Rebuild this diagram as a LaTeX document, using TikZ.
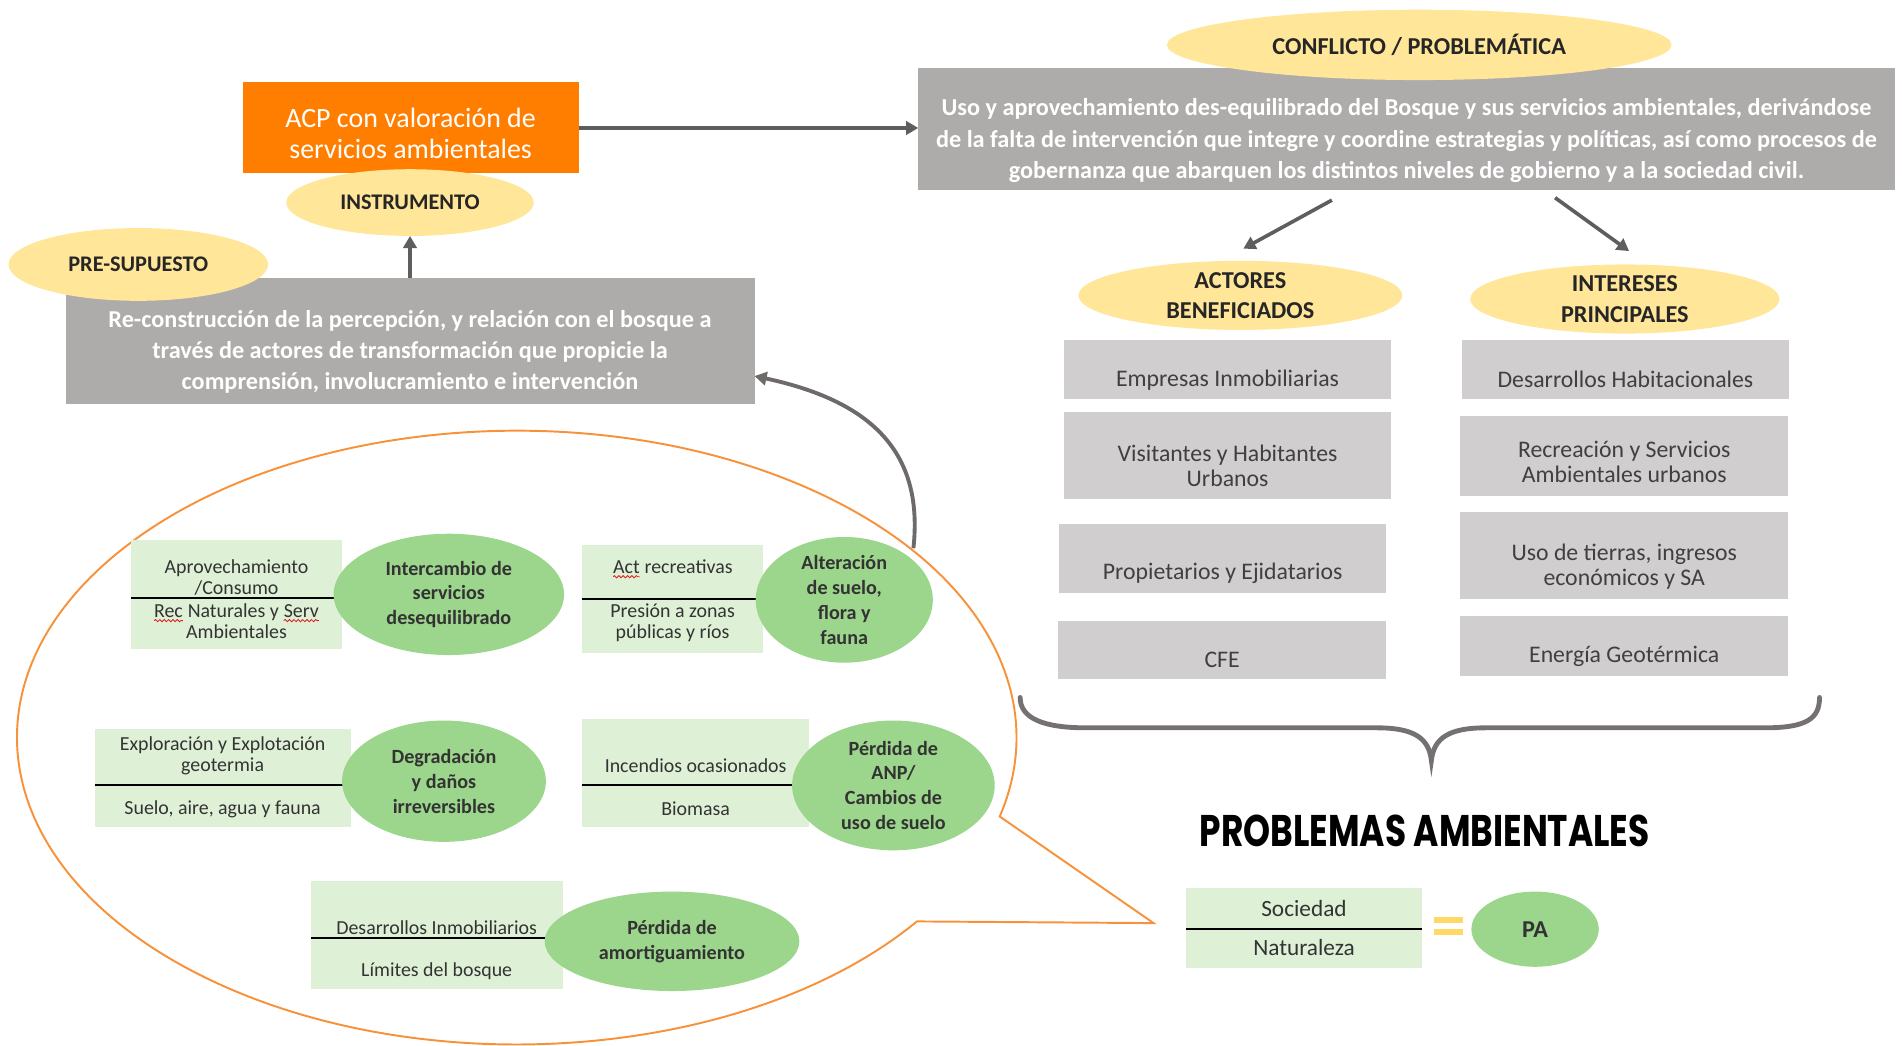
\documentclass[tikz,border=0pt]{standalone}
\usepackage{fontspec}
\setmainfont{Carlito}
\newfontfamily\popfont{Poppins}
\usepackage{graphicx}
\usetikzlibrary{shapes.geometric,arrows.meta,calc,decorations.pathmorphing}
\definecolor{acporange}{HTML}{FF7E00}
\definecolor{boxgray}{HTML}{AEABAB}
\definecolor{lightgraybox}{HTML}{D0CECE}
\definecolor{ellyellow}{HTML}{FFE699}
\definecolor{ellgreen}{HTML}{9CD58C}
\definecolor{lightgreen}{HTML}{DEF1D7}
\definecolor{arrowgray}{HTML}{5E5E5E}
\definecolor{curvegray}{HTML}{6E6A6A}
\definecolor{bracegray}{HTML}{767171}
\definecolor{bubbleorange}{HTML}{F7923A}
\definecolor{eqyellow}{HTML}{FFD966}
\definecolor{txtdark}{HTML}{262626}
\definecolor{txtgray}{HTML}{404040}
\definecolor{txtgreen}{HTML}{333333}
\definecolor{wavered}{HTML}{E02020}
\newcommand\redwave[1]{\tikz[baseline=(rw.base)]{\node[inner sep=0pt,outer sep=0pt,text=txtgreen](rw){#1};\draw[wavered,line width=0.35pt,decorate,decoration={snake,amplitude=0.45pt,segment length=1.8pt}] ([yshift=-1.4pt]rw.base west) -- ([yshift=-1.4pt]rw.base east);}}
\begin{document}
\begin{tikzpicture}[x=0.5pt,y=-0.5pt,
  every node/.style={inner sep=0pt, outer sep=0pt},
  graybox/.style={rectangle, fill=boxgray},
  graytext/.style={text=white, font=\bfseries\fontsize{10}{13}\selectfont, align=center},
  yell/.style={ellipse, fill=ellyellow, text=txtdark, font=\bfseries\fontsize{9.2}{12.5}\selectfont, align=center},
  lgray/.style={rectangle, fill=lightgraybox},
  lgraytext/.style={text=txtgray, font=\fontsize{9.8}{10.5}\selectfont, align=center},
  lgreen/.style={rectangle, fill=lightgreen},
  lgreentext/.style={text=txtgreen, font=\fontsize{8.2}{8.8}\selectfont, align=center},
  gell/.style={ellipse, fill=ellgreen, text=txtgreen, font=\bfseries\fontsize{8.3}{10.25}\selectfont, align=center},
  arr/.style={draw=arrowgray, line width=1.5pt, -{Triangle[length=5pt,width=5.5pt]}},
  divline/.style={draw=black, line width=0.8pt},
]
\useasboundingbox (0,0) rectangle (1568,862);

% ---------- speech bubble ----------
\coordinate (bubc) at (426,608);
\coordinate (tailtip) at (951,761);
\draw[draw=bubbleorange, line width=0.8pt] (755.9,759.6) arc[start angle=36.8, end angle=374.9, x radius=412, y radius=253] -- (tailtip) -- cycle;

% ---------- top left ----------
\node[rectangle, fill=acporange, minimum width=138.5pt, minimum height=37.5pt] (acp) at (338.5,105.5) {};
\node[text=white, font=\fontsize{11.5}{13}\selectfont, align=center] (acpt) at (338.5,110) {ACP con valoración de\\servicios ambientales};
\node[yell, minimum width=102pt, minimum height=27.5pt] (instr) at (338,167) {INSTRUMENTO};
\node[graybox, minimum width=284pt, minimum height=52pt] (recon) at (338,281) {};
\node[graytext, font=\bfseries\fontsize{10}{12.75}\selectfont] (recont) at (338,290) {Re-construcción de la percepción, y relación con el bosque a\\través de actores de transformación que propicie la\\comprensión, involucramiento e intervención};
\node[yell, minimum width=107pt, minimum height=30pt] (presup) at (114,218) {PRE-SUPUESTO};

% ---------- conflict ----------
\node[graybox, minimum width=402.5pt, minimum height=50.5pt] (conf) at (1159.5,106.5) {};
\node[graytext] (conft) at (1159.5,116) {Uso y aprovechamiento des-equilibrado del Bosque y sus servicios ambientales, derivándose\\de la falta de intervención que integre y coordine estrategias y políticas, así como procesos de\\gobernanza que abarquen los distintos niveles de gobierno y a la sociedad civil.};
\node[yell, font=\bfseries\fontsize{10}{12.5}\selectfont, minimum width=208pt, minimum height=29pt] (confl) at (1170,37) {CONFLICTO / PROBLEMÁTICA};

\draw[arr] (acp.east) -- (acp.east -| conf.west);
\draw[arr] (recon.north) -- (instr.south);

% ---------- actors / interests ----------
\node[yell, font=\bfseries\fontsize{10}{12.5}\selectfont, minimum width=133.5pt, minimum height=28.5pt] (actores) at (1022.5,243.5) {ACTORES\\BENEFICIADOS};
\node[yell, font=\bfseries\fontsize{10}{12.5}\selectfont, minimum width=127.5pt, minimum height=28.5pt] (intereses) at (1339.5,246.5) {INTERESES\\PRINCIPALES};

\coordinate (d1s) at (1098,165);
\coordinate (d1e) at (1025,205);
\coordinate (d2s) at (1282,163);
\coordinate (d2e) at (1343,207);
\draw[arr] (d1s) -- (d1e);
\draw[arr] (d2s) -- (d2e);

\node[lgray, minimum width=135pt, minimum height=24.5pt] (a1) at (1012,304.5) {};
\node[lgraytext] (a1t) at (1012,313) {Empresas Inmobiliarias};
\node[lgray, minimum width=135pt, minimum height=35.5pt] (a2) at (1012,375.5) {};
\node[lgraytext] (a2t) at (1012,384) {Visitantes y Habitantes\\Urbanos};
\node[lgray, minimum width=135pt, minimum height=28.5pt] (a3) at (1008,460.5) {};
\node[lgraytext] (a3t) at (1008,473) {Propietarios y Ejidatarios};
\node[lgray, minimum width=135.5pt, minimum height=24pt] (a4) at (1007.5,536) {};
\node[lgraytext] (a4t) at (1007.5,544) {CFE};

\node[lgray, minimum width=135pt, minimum height=24.5pt] (r1) at (1340,304.5) {};
\node[lgraytext] (r1t) at (1340,313) {Desarrollos Habitacionales};
\node[lgray, minimum width=135pt, minimum height=33pt] (r2) at (1339,376) {};
\node[lgraytext] (r2t) at (1339,381) {Recreación y Servicios\\Ambientales urbanos};
\node[lgray, minimum width=135pt, minimum height=36pt] (r3) at (1339,458) {};
\node[lgraytext] (r3t) at (1339,467) {Uso de tierras, ingresos\\económicos y SA};
\node[lgray, minimum width=135pt, minimum height=24.5pt] (r4) at (1339,532.5) {};
\node[lgraytext] (r4t) at (1339,541) {Energía Geotérmica};

% ---------- brace ----------
\draw[draw=bracegray, line width=2pt, line cap=round]
  (841,575) .. controls (841,592) and (860,600) .. (895,600) -- (1135,600)
  .. controls (1165,600) and (1178,608) .. (1180,627)
  .. controls (1182,608) and (1195,600) .. (1225,600) -- (1455,600)
  .. controls (1490,600) and (1500,592) .. (1500,575);

\node[text=black] (probt) at (1174.5,685) {\resizebox{185.5pt}{13pt}{\popfont\bfseries PROBLEMAS AMBIENTALES}};

% ---------- formula ----------
\node[lgreen, minimum width=97pt, minimum height=33pt] (soc) at (1075,765) {};
\draw[divline] (soc.west |- 0,766) -- (soc.east |- 0,766);
\node[lgreentext, font=\fontsize{9.6}{11}\selectfont] (soct) at (1075,749) {Sociedad};
\node[lgreentext, font=\fontsize{9.6}{11}\selectfont] (natt) at (1075,781) {Naturaleza};
\fill[eqyellow] (1182,756) rectangle (1206,761);
\fill[eqyellow] (1182,766) rectangle (1206,771);
\node[gell, font=\bfseries\fontsize{10}{12}\selectfont, minimum width=52.5pt, minimum height=31pt] (pa) at (1265.5,766) {PA};

% ---------- bubble contents ----------
% row 1
\node[lgreen, minimum width=87pt, minimum height=45pt] (b1) at (195,490) {};
\draw[divline] (108,493) -- (290,493);
\node[lgreentext] (b1t) at (195,476) {Aprovechamiento\\/Consumo};
\node[lgreentext] (b1b) at (195,512) {\redwave{Rec} Naturales y \redwave{Serv}\\Ambientales};
\node[gell, minimum width=95pt, minimum height=50pt] (e1) at (370,490) {Intercambio de\\servicios\\desequilibrado};

\node[lgreen, minimum width=74.5pt, minimum height=44.5pt] (b2) at (554.5,493.5) {};
\draw[divline] (480,494) -- (630,494);
\node[lgreentext] (b2t) at (554.5,469) {\redwave{Act} recreativas};
\node[lgreentext] (b2b) at (554.5,513.5) {Presión a zonas\\públicas y ríos};
\node[gell, minimum width=73pt, minimum height=50.5pt] (e2) at (696,494.5) {Alteración\\de suelo,\\flora y\\fauna};

% row 2
\node[lgreen, minimum width=105.5pt, minimum height=40.5pt] (b3) at (183.5,641.5) {};
\draw[divline] (78,647) -- (290,647);
\node[lgreentext] (b3t) at (183.5,623) {Exploración y Explotación\\geotermia};
\node[lgreentext] (b3b) at (183.5,667) {Suelo, aire, agua y fauna};
\node[gell, minimum width=84pt, minimum height=50pt] (e3) at (366,644) {Degradación\\y daños\\irreversibles};

\node[lgreen, minimum width=93.5pt, minimum height=44.5pt] (b4) at (573.5,637.5) {};
\draw[divline] (480,647) -- (660,647);
\node[lgreentext] (b4t) at (573.5,631) {Incendios ocasionados};
\node[lgreentext] (b4b) at (573.5,667) {Biomasa};
\node[gell, minimum width=83.5pt, minimum height=53.5pt] (e4) at (736.5,647.5) {Pérdida de\\ANP/\\Cambios de\\uso de suelo};

% row 3
\node[lgreen, minimum width=104pt, minimum height=44.5pt] (b5) at (360,770.5) {};
\draw[divline] (256,773) -- (450,773);
\node[lgreentext] (b5t) at (360,765) {Desarrollos Inmobiliarios};
\node[lgreentext] (b5b) at (360,801) {Límites del bosque};
\node[gell, minimum width=105pt, minimum height=41pt] (e5) at (554,776) {Pérdida de\\amortiguamiento};

% ---------- curved arrow back ----------
\coordinate (bubtop) at (753,452);
\draw[draw=curvegray, line width=1.6pt, -{Triangle[length=5pt,width=5.5pt]}]
  (bubtop) .. controls (762,370) and (715,330) .. ([yshift=-14.5pt]recon.east);

\end{tikzpicture}
\end{document}
